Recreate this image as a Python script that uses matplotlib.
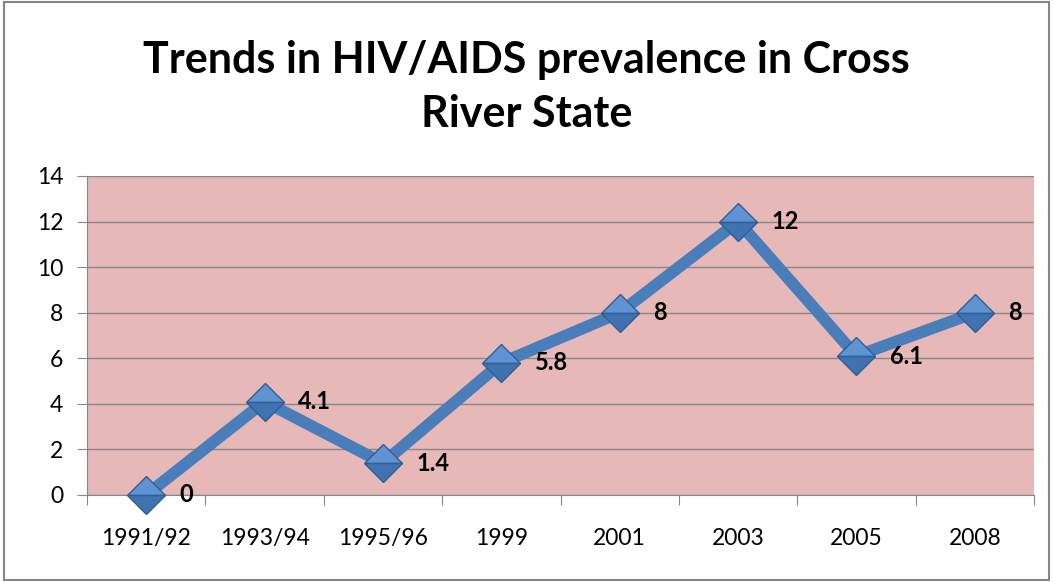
import matplotlib.pyplot as plt
from matplotlib.patches import Rectangle

years = ["1991/92", "1993/94", "1995/96", "1999", "2001", "2003", "2005", "2008"]
prevalence = [0, 4.1, 1.4, 5.8, 8, 12, 6.1, 8]
value_labels = ["0", "4.1", "1.4", "5.8", "8", "12", "6.1", "8"]

plt.rcParams["font.family"] = ["Lato", "DejaVu Sans"]

fig = plt.figure(figsize=(10.53, 5.82), dpi=100)
ax = fig.add_axes([0.0826, 0.1495, 0.8994, 0.5481])

ax.set_facecolor("#e6b9b8")
x = list(range(len(years)))

ax.plot(x, prevalence, color="#4a7ebb", linewidth=8.5, zorder=3, clip_on=False)
ax.plot(x, prevalence, linestyle="none", marker="D", markersize=19,
        fillstyle="top", markerfacecolor="#5f93d3", markerfacecoloralt="#3f72ae",
        markeredgecolor="#2f5f96", markeredgewidth=1.0, zorder=4, clip_on=False)

for xi, v, lab in zip(x, prevalence, value_labels):
    ax.annotate(lab, (xi, v), xytext=(24, 0), textcoords="offset points",
                ha="left", va="center", fontsize=17, fontweight="bold",
                color="black", zorder=5)

ax.set_xlim(-0.5, len(years) - 0.5)
ax.set_ylim(0, 14)
ax.set_yticks(range(0, 15, 2))
ax.yaxis.grid(True, color="#868686", linewidth=1)
ax.set_axisbelow(True)

# ticks between categories, labels at centres
ax.set_xticks([i - 0.5 for i in range(len(years) + 1)])
ax.set_xticklabels([])
ax.set_xticks(x, minor=True)
ax.set_xticklabels(years, minor=True)
ax.tick_params(axis="x", which="minor", length=0, pad=24, labelsize=16.5)
ax.tick_params(axis="x", which="major", length=7, color="#868686", direction="out")
ax.tick_params(axis="y", length=7, color="#868686", labelsize=16.5, pad=10)

for side in ["top", "right"]:
    ax.spines[side].set_visible(False)
for side in ["left", "bottom"]:
    ax.spines[side].set_color("#868686")

fig.text(0.5, 0.851, "Trends in HIV/AIDS prevalence in Cross\nRiver State",
         ha="center", va="center", fontsize=31, fontweight="bold",
         linespacing=1.42)

fig.patches.append(Rectangle((0.004, 0.004), 0.992, 0.992, transform=fig.transFigure,
                             fill=False, edgecolor="#868686", linewidth=1.5))

fig.savefig("out.png", dpi=100)
